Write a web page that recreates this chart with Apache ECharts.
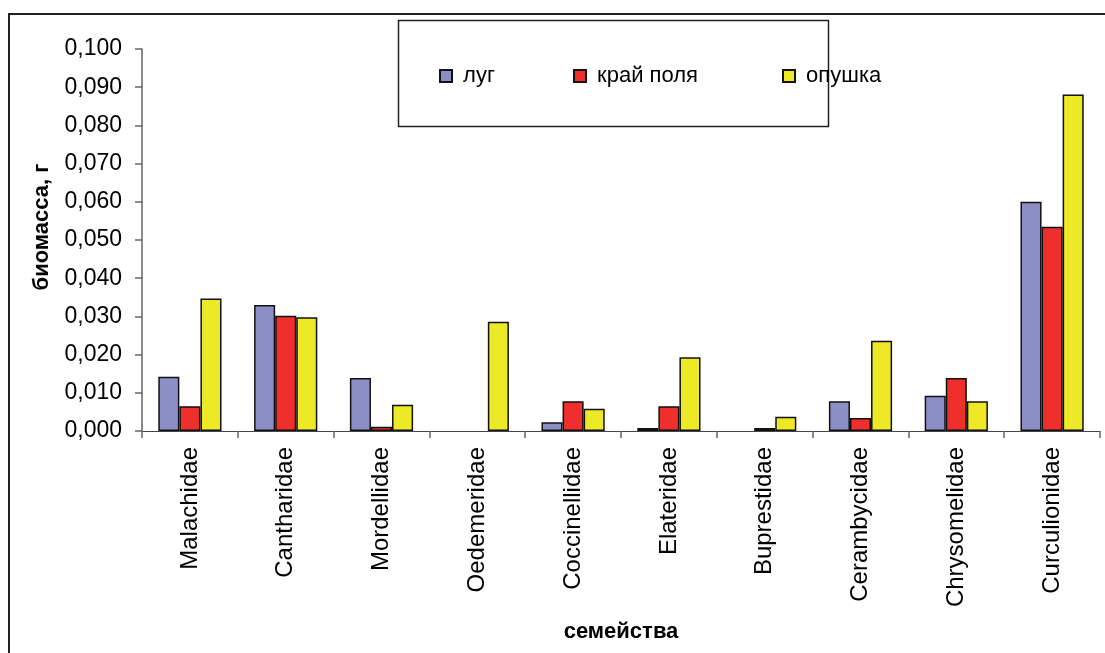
<!DOCTYPE html>
<html>
<head>
<meta charset="utf-8">
<script src="https://cdn.jsdelivr.net/npm/echarts@6/dist/echarts.min.js"></script>
<style>
  html, body { margin: 0; padding: 0; background: #fff; }
  #chart { width: 1105px; height: 653px; }
</style>
</head>
<body>
<div id="chart"></div>
<script>
// Beetle families
const categories = ['Malachidae', 'Cantharidae', 'Mordellidae', 'Oedemeridae', 'Coccinellidae',
  'Elateridae', 'Buprestidae', 'Cerambycidae', 'Chrysomelidae', 'Curculionidae'];

// Biomass, g, per habitat
const lugValues = [0.0142, 0.0330, 0.0139, 0, 0.0023, 0.0008, 0, 0.0078, 0.0092, 0.0600];
const edgeValues = [0.0065, 0.0302, 0.0011, 0, 0.0078, 0.0065, 0.0008, 0.0034, 0.0139, 0.0535];
const forestEdgeValues = [0.0347, 0.0298, 0.0069, 0.0286, 0.0058, 0.0193, 0.0037, 0.0236, 0.0078, 0.0881];

const seriesNames = ['луг', 'край поля', 'опушка'];
const seriesColors = ['#8c8fc6', '#ee2f2c', '#ede926'];

const FONT = '"Liberation Sans", Arial, sans-serif';

const chart = echarts.init(document.getElementById('chart'));

const legendLefts = [439, 573, 782];

// empty bars get no outline so nothing is drawn on the baseline
const toBarData = vals => vals.map(v => v === 0 ? { value: v, itemStyle: { borderWidth: 0 } } : v);

chart.setOption({
  animation: false,
  backgroundColor: '#ffffff',
  textStyle: { fontFamily: FONT, color: '#000' },
  graphic: [
    {
      type: 'rect', z: -10,
      shape: { x: 9, y: 14, width: 1200, height: 1000 },
      style: { fill: '#fff', stroke: '#222', lineWidth: 2 }
    },
    {
      type: 'rect', z: 1,
      shape: { x: 398.5, y: 20.5, width: 430, height: 106 },
      style: { fill: '#fff', stroke: '#222', lineWidth: 1.5 }
    }
  ],
  legend: seriesNames.map((name, i) => ({
    data: [{ name: name, icon: 'rect' }],
    left: legendLefts[i],
    top: 65,
    padding: 0,
    z: 5,
    itemWidth: 12,
    itemHeight: 12,
    formatter: n => ' ' + n,
    textStyle: { fontSize: 22, fontFamily: FONT, color: '#000' }
  })),
  grid: { left: 142, right: 5, top: 49, bottom: 222, containLabel: false },
  xAxis: {
    type: 'category',
    data: categories,
    name: 'семейства',
    nameLocation: 'middle',
    nameGap: 190,
    nameTextStyle: { fontSize: 22, fontWeight: 'bold', fontFamily: FONT, color: '#000' },
    axisLine: { lineStyle: { color: '#444', width: 1.2 } },
    axisTick: { show: true, length: 7, inside: false, lineStyle: { color: '#666', width: 1.5 } },
    axisLabel: { rotate: 90, fontSize: 24, fontFamily: FONT, color: '#000', margin: 16 }
  },
  yAxis: {
    type: 'value',
    min: 0,
    max: 0.1,
    interval: 0.01,
    name: 'биомасса, г',
    nameLocation: 'middle',
    nameGap: 89,
    nameTextStyle: { fontSize: 22, fontWeight: 'bold', fontFamily: FONT, color: '#000', padding: [0, 0, 0, 26] },
    splitLine: { show: false },
    axisLine: { show: true, lineStyle: { color: '#666', width: 1.5 } },
    axisTick: { show: true, length: 7, inside: false, lineStyle: { color: '#666', width: 1.5 } },
    axisLabel: {
      fontSize: 23, fontFamily: FONT, color: '#000', margin: 20,
      formatter: v => v.toFixed(3).replace('.', ',')
    }
  },
  series: [lugValues, edgeValues, forestEdgeValues].map((vals, i) => ({
    name: seriesNames[i],
    type: 'bar',
    data: toBarData(vals),
    barGap: '0%',
    barCategoryGap: '34%',
    itemStyle: { color: seriesColors[i], borderColor: '#111', borderWidth: 1.5 }
  }))
});
</script>
</body>
</html>
